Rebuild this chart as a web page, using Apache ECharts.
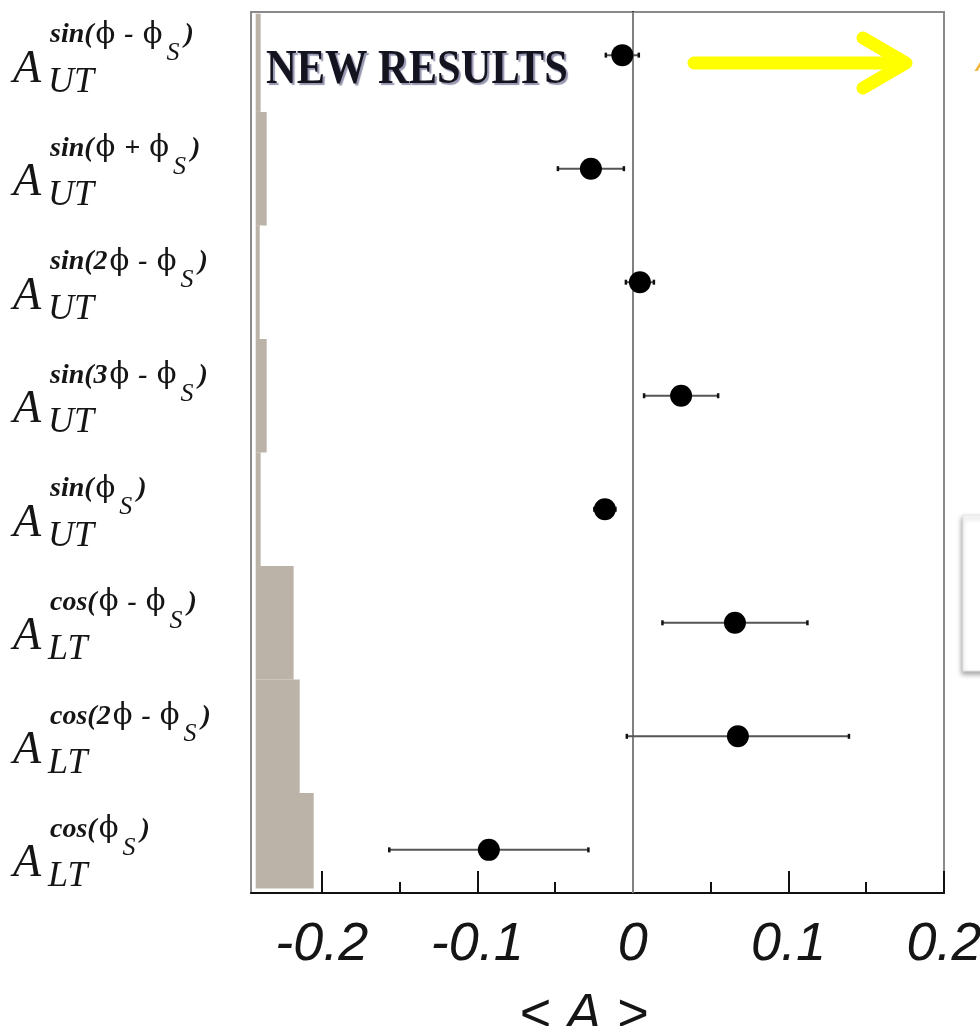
<!DOCTYPE html>
<html>
<head>
<meta charset="utf-8">
<script src="https://cdn.jsdelivr.net/npm/echarts@6/dist/echarts.min.js"></script>
<style>html,body{margin:0;padding:0;background:#fff;}#c{width:980px;height:1026px;}</style>
</head>
<body>
<div id="c"></div>
<script>
// ---- data ----
const funcNames = ['sin(ϕ - ϕ', 'sin(ϕ + ϕ', 'sin(2ϕ - ϕ', 'sin(3ϕ - ϕ', 'sin(ϕ', 'cos(ϕ - ϕ', 'cos(2ϕ - ϕ', 'cos(ϕ'];
const subscripts = ['UT', 'UT', 'UT', 'UT', 'UT', 'LT', 'LT', 'LT'];
const rows = [1, 2, 3, 4, 5, 6, 7, 8];
const asymValues = [-0.0068, -0.027, 0.0045, 0.031, -0.018, 0.0656, 0.0675, -0.0926];
const asymErrors = [0.0106, 0.0212, 0.009, 0.0238, 0.0068, 0.0466, 0.0714, 0.064];
const sysWidths = [0.0032, 0.0071, 0.0026, 0.0071, 0.0032, 0.0244, 0.0283, 0.0373];
const sysBase = -0.2425;
const xMajorTicks = [-0.2, -0.1, 0, 0.1, 0.2];
const xMinorTicks = [-0.15, -0.05, 0.05, 0.15];
const xMin = -0.2455, xMax = 0.2;
const yMin = 0.62, yMax = 8.38;

const chart = echarts.init(document.getElementById('c'));

function labelFor(v) {
  const i = Math.round(v) - 1;
  if (i < 0 || i >= funcNames.length) return '';
  const parts = funcNames[i].split('ϕ');
  let s = '{pad|}';
  parts.forEach((p, k) => {
    if (p.length) s += '{f|' + p + '}';
    if (k < parts.length - 1) s += '{p|ϕ}';
  });
  s += '{s|S}{f|)}';
  s += '\n{A|A}{u|' + subscripts[i] + '}';
  return s;
}

const serif = 'Liberation Serif';
const txtColor = '#151515';

const scatterData = rows.map((r, i) => [asymValues[i], r]);
const errData = rows.map((r, i) => [asymValues[i], r, asymErrors[i]]);
const sysData = rows.map((r, i) => [r, sysWidths[i]]);

const option = {
  animation: false,
  backgroundColor: '#fff',
  grid: { left: 251, right: 36, top: 12, bottom: 133, outerBoundsMode: 'none', containLabel: false, show: true, borderColor: '#8a8a8a', borderWidth: 2, backgroundColor: 'transparent' },
  xAxis: [
    {
      type: 'value', min: xMin, max: xMax, position: 'bottom',
      axisLine: { show: true, lineStyle: { color: '#111', width: 2 } },
      axisTick: { show: true, inside: true, length: 22, customValues: xMajorTicks, lineStyle: { color: '#111', width: 2 } },
      axisLabel: {
        customValues: xMajorTicks, margin: 25,
        fontFamily: 'Liberation Sans', fontStyle: 'italic', fontSize: 54, color: txtColor,
        formatter: v => (Math.abs(v) < 1e-9 ? '0' : String(+v.toFixed(2)))
      },
      splitLine: { show: false },
      name: '< A >', nameLocation: 'middle', nameGap: 96,
      nameTextStyle: { fontFamily: 'Liberation Sans', fontStyle: 'italic', fontSize: 54, color: txtColor, padding: [0, 28, 0, 0] }
    },
    {
      type: 'value', min: xMin, max: xMax, position: 'bottom', gridIndex: 0,
      axisLine: { show: false },
      axisTick: { show: true, inside: true, length: 11, customValues: xMinorTicks, lineStyle: { color: '#111', width: 2 } },
      axisLabel: { show: false },
      splitLine: { show: false }
    }
  ],
  yAxis: [
    {
      type: 'value', inverse: true, min: yMin, max: yMax,
      axisLine: { show: false }, axisTick: { show: false }, splitLine: { show: false },
      axisLabel: {
        customValues: rows, align: 'left', margin: 238,
        formatter: labelFor,
        rich: {
          pad: { width: 37, lineHeight: 40 },
          f: { fontFamily: serif, fontStyle: 'italic', fontWeight: 'bold', fontSize: 28, color: txtColor, lineHeight: 28, padding: [0, 0, 12, 0] },
          p: { fontFamily: 'DejaVu Serif', fontStyle: 'normal', fontSize: 29, color: txtColor, lineHeight: 28, padding: [0, 2, 12, 2] },
          s: { fontFamily: serif, fontStyle: 'italic', fontSize: 26, color: txtColor, lineHeight: 18, padding: [24, 5, 0, 2] },
          A: { fontFamily: serif, fontStyle: 'italic', fontSize: 46, color: txtColor, lineHeight: 28, padding: [0, 7, 11, 0] },
          u: { fontFamily: serif, fontStyle: 'italic', fontSize: 36, color: txtColor, lineHeight: 26, padding: [14, 0, 0, 0] }
        }
      }
    },
    {
      type: 'value', inverse: true, min: yMin, max: yMax, position: 'right',
      axisLine: { show: true, lineStyle: { color: '#111', width: 2 } },
      axisTick: { show: false }, axisLabel: { show: false }, splitLine: { show: false }
    }
  ],
  series: [
    {
      type: 'custom', name: 'sys', z: 1,
      data: sysData,
      renderItem: (params, api) => {
        const r = api.value(0), w = api.value(1);
        const y0 = Math.max(r - 0.5, yMin + 0.015), y1 = Math.min(r + 0.5, yMax - 0.04);
        const p0 = api.coord([sysBase, y0]);
        const p1 = api.coord([sysBase + w, y1]);
        return { type: 'rect', shape: { x: p0[0], y: p0[1], width: p1[0] - p0[0], height: p1[1] - p0[1] }, style: { fill: '#bbb3a8' } };
      }
    },
    {
      type: 'custom', name: 'err', z: 3,
      data: errData,
      renderItem: (params, api) => {
        const x = api.value(0), r = api.value(1), e = api.value(2);
        const a = api.coord([x - e, r]);
        const b = api.coord([x + e, r]);
        return {
          type: 'group',
          children: [
            { type: 'line', shape: { x1: a[0], y1: a[1], x2: b[0], y2: b[1] }, style: { stroke: '#555', lineWidth: 2 } },
            { type: 'line', shape: { x1: a[0], y1: a[1] - 2.5, x2: a[0], y2: a[1] + 2.5 }, style: { stroke: '#111', lineWidth: 2.5 } },
            { type: 'line', shape: { x1: b[0], y1: b[1] - 2.5, x2: b[0], y2: b[1] + 2.5 }, style: { stroke: '#111', lineWidth: 2.5 } }
          ]
        };
      }
    },
    {
      type: 'scatter', name: 'A', z: 4,
      data: scatterData, symbol: 'circle', symbolSize: 22,
      itemStyle: { color: '#000', opacity: 1 },
      markLine: {
        silent: true, symbol: 'none', z: 2,
        label: { show: false },
        lineStyle: { color: '#808080', width: 2, type: 'solid', opacity: 1 },
        data: [{ xAxis: 0 }]
      }
    }
  ],
  graphic: [
    {
      type: 'text', left: 266, top: 47, z: 10, scaleX: 0.885,
      style: {
        text: 'NEW RESULTS', fontFamily: serif, fontWeight: 'bold', fontSize: 48, fill: '#141420',
        textShadowColor: 'rgba(60,60,110,0.55)', textShadowOffsetX: 2, textShadowOffsetY: 2, textShadowBlur: 1
      }
    },
    { type: 'line', z: 10, shape: { x1: 694, y1: 63, x2: 902, y2: 63 }, style: { stroke: '#ffff00', lineWidth: 13, lineCap: 'round' } },
    { type: 'polyline', z: 10, shape: { points: [[863, 38], [906, 63], [863, 88]] }, style: { stroke: '#ffff00', fill: 'none', lineWidth: 13, lineCap: 'round', lineJoin: 'round' } },
    { type: 'rect', z: 10, shape: { x: 963, y: 515, width: 40, height: 156 }, style: { fill: '#fff', stroke: '#e4e4e4', lineWidth: 1, shadowBlur: 5, shadowColor: 'rgba(0,0,0,0.35)', shadowOffsetY: 3, shadowOffsetX: -1 } },
    { type: 'text', z: 10, left: 976, top: 48, style: { text: 'A', fontFamily: 'Liberation Sans', fontStyle: 'italic', fontSize: 30, fill: '#f2b63a' } }
  ]
};
chart.setOption(option);
</script>
</body>
</html>
